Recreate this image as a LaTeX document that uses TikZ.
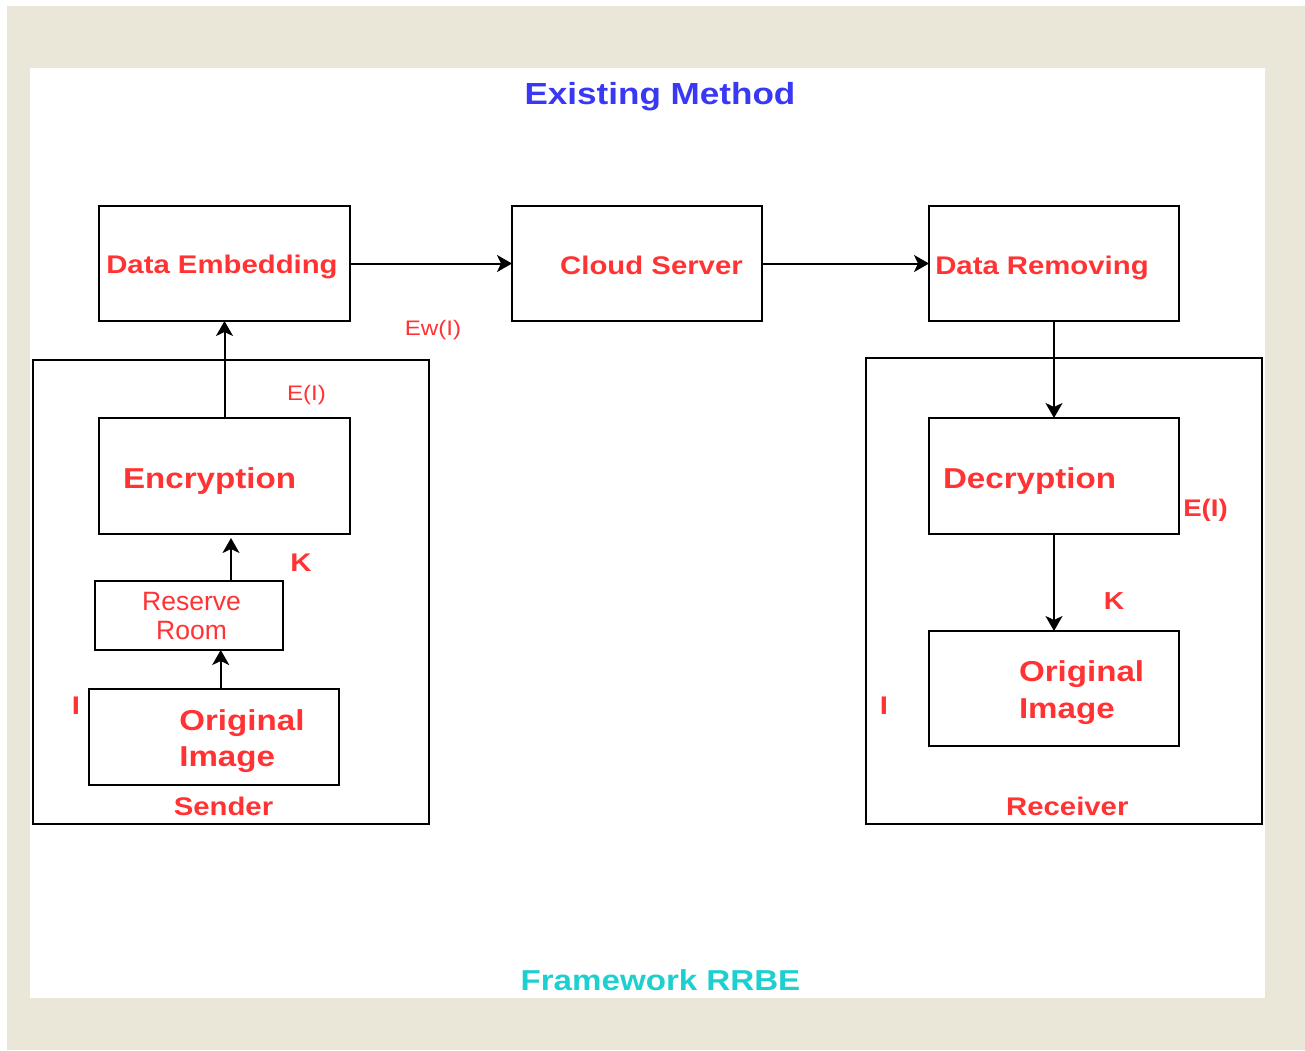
\documentclass[tikz,border=0pt]{standalone}
\usepackage{fontspec}
\setmainfont{Liberation Sans}[FakeStretch=1.15]
\newfontfamily\narrowsans{Liberation Sans}
\usetikzlibrary{arrows.meta}
\definecolor{txtred}{HTML}{FF3333}
\definecolor{titleblue}{HTML}{3838F5}
\definecolor{titlecyan}{HTML}{1ECFCF}
\definecolor{pagebeige}{HTML}{EBE7D8}
\newcommand\fsz[2]{\fontsize{#1}{#2}\selectfont}
\begin{document}
\begin{tikzpicture}[x=1pt,y=-1pt,
  box/.style={draw=black, line width=2pt, inner sep=0pt, outer sep=0pt},
  lbl/.style={inner sep=0pt, outer sep=0pt, text=txtred},
  arr/.style={-{Stealth[length=15pt,width=17pt,inset=4pt]}, line width=2pt, draw=black}]
\useasboundingbox (0,0) rectangle (1305,1050);
% page and panel
\fill[white] (0,0) rectangle (1305,1050);
\fill[pagebeige] (7,6) rectangle (1305,1050);
\fill[white] (30,68) rectangle (1265,998);

% titles
\node[inner sep=0pt, text=titleblue, font=\bfseries\fsz{30.5}{36}, anchor=base] (title) at (660,104) {Existing Method};
\node[inner sep=0pt, text=titlecyan, font=\bfseries\fsz{28.8}{34}, anchor=base] (framework) at (660.5,990) {Framework RRBE};

% group frames
\node[box, minimum width=396pt, minimum height=464pt] (sender) at (231,592) {};
\node[box, minimum width=396pt, minimum height=466pt] (receiver) at (1064,591) {};

% top row
\node[box, minimum width=251pt, minimum height=115pt] (emb) at (224.5,263.5) {};
\node[box, minimum width=250pt, minimum height=115pt] (cloud) at (637,263.5) {};
\node[box, minimum width=250pt, minimum height=115pt] (rem) at (1054,263.5) {};

% sender side
\node[box, minimum width=251pt, minimum height=116pt] (enc) at (224.5,476) {};
\node[box, minimum width=188pt, minimum height=69pt] (rr) at (189,615.5) {};
\node[box, minimum width=250pt, minimum height=96pt] (origL) at (214,737) {};

% receiver side
\node[box, minimum width=250pt, minimum height=116pt] (dec) at (1054,476) {};
\node[box, minimum width=250pt, minimum height=115pt] (origR) at (1054,688.5) {};

% box texts (multi-line nodes sit on the baseline of their last line)
\node[lbl, font=\bfseries\fsz{25.5}{30}, anchor=base] (tEmb) at (222,273.5) {Data Embedding};
\node[lbl, font=\bfseries\fsz{25.5}{30}, anchor=base] (tCloud) at (651.5,274) {Cloud Server};
\node[lbl, font=\bfseries\fsz{25.5}{30}, anchor=base] (tRem) at (1042,274) {Data Removing};
\node[lbl, font=\bfseries\fsz{28.8}{34}, anchor=base] (tEnc) at (209.5,488) {Encryption};
\node[lbl, font=\narrowsans\fsz{26.5}{28.6}, align=center, anchor=base] (tRR) at (191.5,639.3) {Reserve\\Room};
\node[lbl, font=\bfseries\fsz{28.8}{36.7}, align=left, anchor=base west] (tOrigL) at (179.3,766.7) {Original\\Image};
\node[lbl, font=\bfseries\fsz{28.8}{34}, anchor=base] (tDec) at (1029.5,488.3) {Decryption};
\node[lbl, font=\bfseries\fsz{28.8}{36.6}, align=left, anchor=base west] (tOrigR) at (1019,718.3) {Original\\Image};

% signal labels
\node[lbl, font=\fsz{21}{25}, anchor=base] (lEw) at (433,335) {Ew(I)};
\node[lbl, font=\fsz{21}{25}, anchor=base] (lEL) at (306.5,400) {E(I)};
\node[lbl, font=\bfseries\fsz{25.5}{30}, anchor=base] (lKL) at (301,571.7) {K};
\node[lbl, font=\bfseries\fsz{25.5}{30}, anchor=base] (lIL) at (76,714) {I};
\node[lbl, font=\bfseries\fsz{24}{28}, anchor=base] (lER) at (1205.5,516.7) {E(I)};
\node[lbl, font=\bfseries\fsz{24.6}{29}, anchor=base] (lKR) at (1114,609.3) {K};
\node[lbl, font=\bfseries\fsz{25.5}{30}, anchor=base] (lIR) at (884,714) {I};
\node[lbl, font=\bfseries\fsz{25.5}{30}, anchor=base] (lSender) at (223.5,815) {Sender};
\node[lbl, font=\bfseries\fsz{25.5}{30}, anchor=base] (lReceiver) at (1067.3,815) {Receiver};

% connectors
\draw[arr] (emb.east) -- (cloud.west);
\draw[arr] (cloud.east) -- (rem.west);
\draw[arr] (enc.north) -- (emb.south);
\draw[arr, shorten >=4pt] ([xshift=42pt]rr.north) -- ([xshift=42pt]rr.north |- enc.south);
\draw[arr] ([xshift=6.7pt]origL.north) -- ([xshift=6.7pt]origL.north |- rr.south);
\draw[arr] (rem.south) -- (dec.north);
\draw[arr] (dec.south) -- (origR.north);
\end{tikzpicture}
\end{document}
